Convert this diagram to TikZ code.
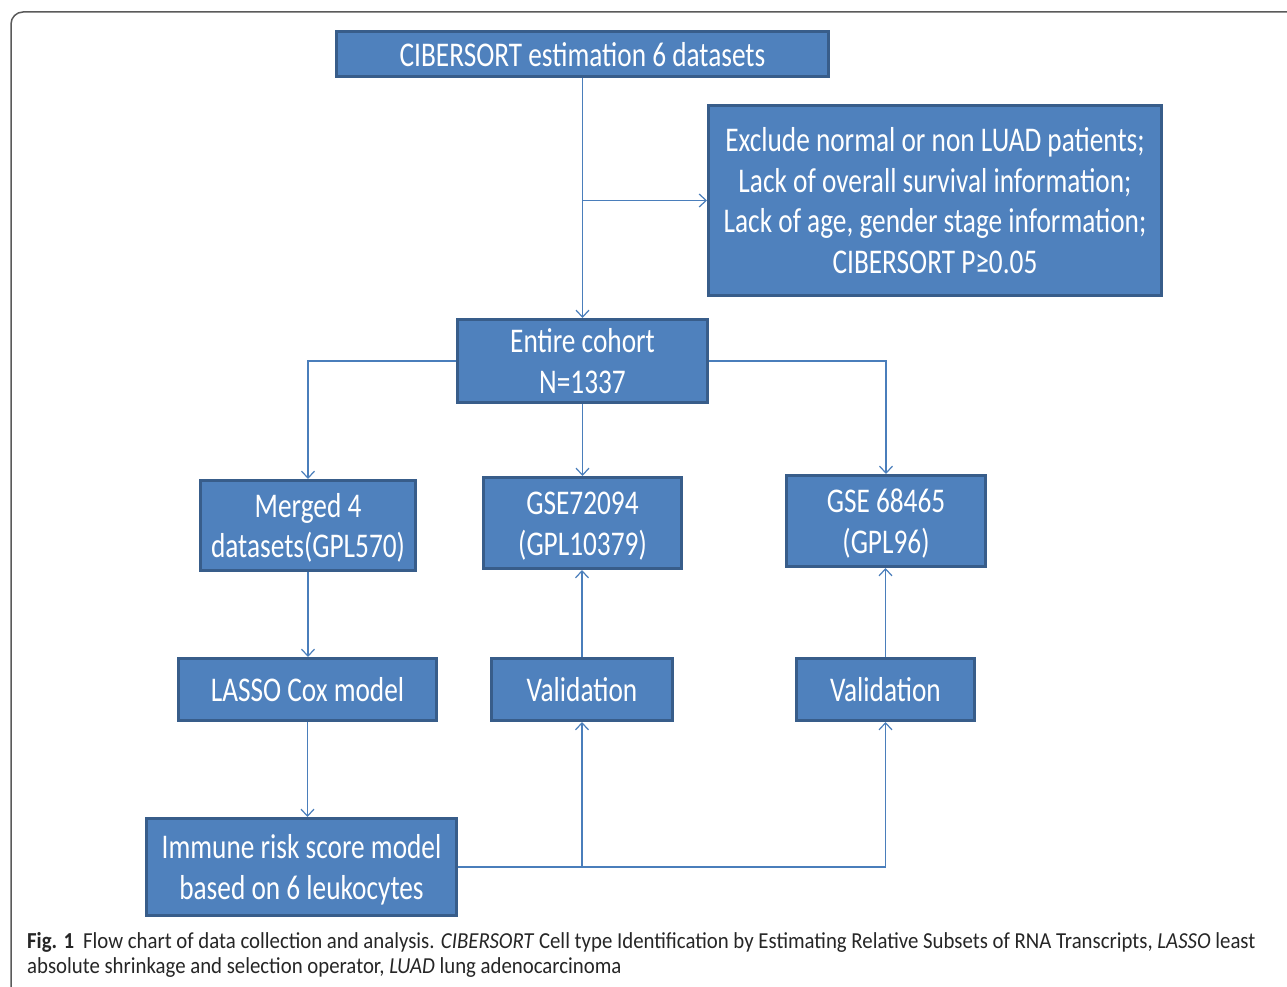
\documentclass[tikz,border=0pt]{standalone}
\usepackage{fontspec}
\setmainfont{Carlito}
\usepackage{graphicx}
\usetikzlibrary{arrows.meta}
\definecolor{boxfill}{HTML}{4F81BD}
\definecolor{boxline}{HTML}{385D8A}
\definecolor{conn}{HTML}{4A7EBB}
\definecolor{frame}{HTML}{5A5A5A}
\newcommand{\bt}[1]{\raisebox{-4pt}[\height][\depth]{\scalebox{1}[1.27]{\begin{tabular}{@{}c@{}}#1\end{tabular}}}}
\tikzset{
  fbox/.style={draw=boxline, line width=3pt, fill=boxfill, text=white, inner sep=0pt,
    font=\fontsize{27.3}{32}\selectfont},
  arr/.style={draw=conn, line width=1.4pt, -{Straight Barb[length=7pt,width=13pt,line width=1.2pt]}},
  ln/.style={draw=conn, line width=1.4pt},
}
\begin{document}
\begin{tikzpicture}[x=1pt,y=-1pt]
\useasboundingbox (0,0) rectangle (1287,987);
\fill[white] (0,0) rectangle (1287,987);
\draw[frame, line width=1.5pt, rounded corners=12pt] (11,995) -- (11,12) -- (1295,12);

\node[fbox, minimum width=492, minimum height=45] (top) at (582.5,54) {\bt{CIBERSORT estimation 6 datasets}};
\node[fbox, minimum width=453, minimum height=190] (excl) at (935,200.5) {\bt{Exclude normal or non LUAD patients;\\Lack of overall survival information;\\Lack of age, gender stage information;\\CIBERSORT P≥0.05}};
\node[fbox, minimum width=250, minimum height=83] (coh) at (582.5,361) {\bt{Entire cohort\\N=1337}};
\node[fbox, minimum width=215, minimum height=90] (mrg) at (308,525.5) {\bt{Merged 4\\datasets(GPL570)}};
\node[fbox, minimum width=198, minimum height=91] (g1) at (582.5,523) {\bt{GSE72094\\(GPL10379)}};
\node[fbox, minimum width=199, minimum height=91] (g2) at (886,521) {\bt{GSE 68465\\(GPL96)}};
\node[fbox, minimum width=258, minimum height=62] (las) at (307.5,689.5) {\bt{LASSO Cox model}};
\node[fbox, minimum width=181, minimum height=62] (v1) at (582,689.5) {\bt{Validation}};
\node[fbox, minimum width=178, minimum height=62] (v2) at (885.5,689.5) {\bt{Validation}};
\node[fbox, minimum width=310, minimum height=97] (imm) at (301.5,867) {\bt{Immune risk score model\\based on 6 leukocytes}};

\coordinate (b1) at (top.south |- excl.west);
\draw[arr] (top.south) -- (top.south |- coh.north);
\draw[arr] (b1) -- (excl.west);
\draw[arr] (coh.west) -| (mrg.north);
\draw[arr] (coh.south) -- (coh.south |- g1.north);
\draw[arr] (coh.east) -| (g2.north);
\draw[arr] (mrg.south) -- (mrg.south |- las.north);
\draw[arr] (las.south) -- (las.south |- imm.north);
\draw[arr] (v1.north) -- (v1.north |- g1.south);
\draw[arr] (v2.north) -- (v2.north |- g2.south);
\coordinate (b2) at (imm.east -| v1.south);
\draw[arr] (imm.east) -| (v2.south);
\draw[arr] (b2) -- (v1.south);

\node[anchor=base west, inner sep=0pt, font=\fontsize{20.8}{24}\selectfont, text=black!85] (cap1) at (27,948)
  {\scalebox{1}[1.1]{\textbf{Fig. 1}\hspace{9pt}Flow chart of data collection and analysis. \textit{CIBERSORT} Cell type Identification by Estimating Relative Subsets of RNA Transcripts, \textit{LASSO} least}};
\node[anchor=base west, inner sep=0pt, font=\fontsize{20.8}{24}\selectfont, text=black!85] (cap2) at (27,973)
  {\scalebox{1}[1.1]{absolute shrinkage and selection operator, \textit{LUAD} lung adenocarcinoma}};
\end{tikzpicture}
\end{document}
